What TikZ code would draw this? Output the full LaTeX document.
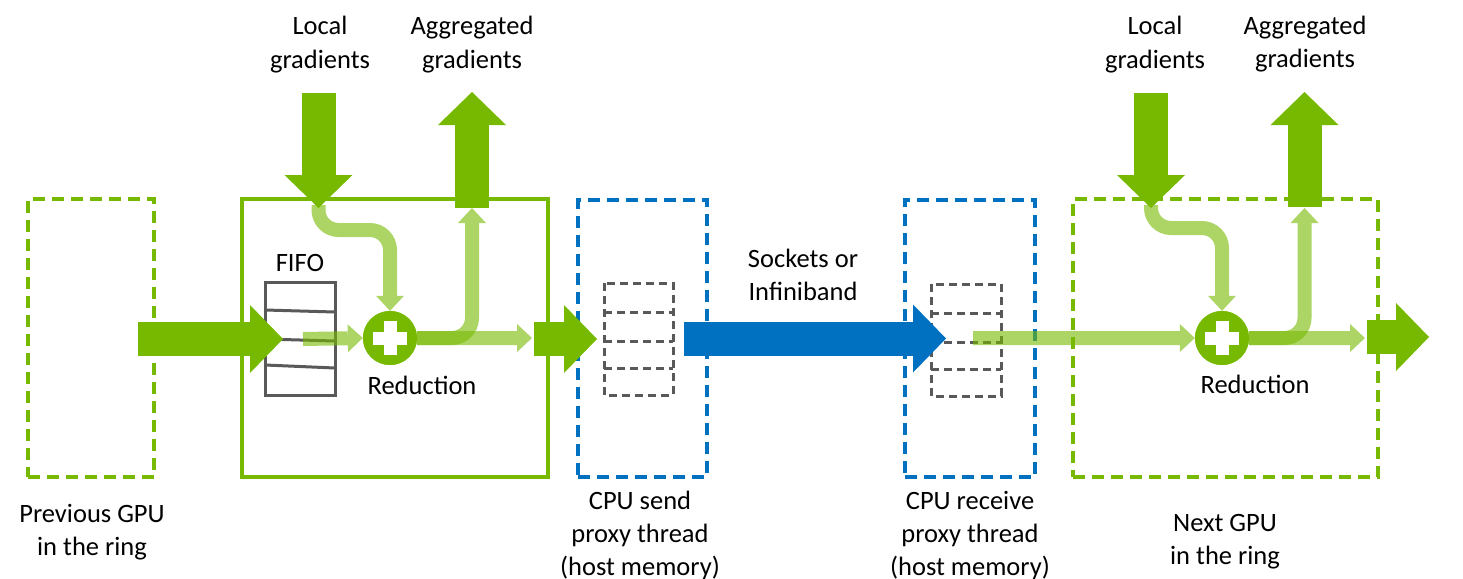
\documentclass[tikz,border=0pt]{standalone}
\usepackage{fontspec}
\setmainfont{Carlito}
\usetikzlibrary{arrows.meta}
\definecolor{nvgreen}{RGB}{118,185,0}
\definecolor{nvblue}{RGB}{0,112,192}
\definecolor{fifogray}{RGB}{89,89,89}
\begin{document}
\begin{tikzpicture}[x=1pt,y=-1pt,
  lbl/.style={font=\fontsize{26.5}{33}\selectfont, align=center, anchor=base, inner sep=0pt},
  gpubox/.style={draw=nvgreen, line width=3.5pt, minimum width=#1, minimum height=278pt, inner sep=0pt},
  gpudash/.style={gpubox=#1, dash pattern=on 12pt off 7pt, line width=4pt},
  cpubox/.style={draw=nvblue, line width=4pt, dash pattern=on 12pt off 7pt, minimum width=129pt, minimum height=277pt, inner sep=0pt},
  fifosolid/.style={draw=fifogray, line width=3pt},
  fifodash/.style={draw=fifogray, line width=3pt, dash pattern=on 8pt off 5pt},
  bigarrow/.style={draw=#1, line width=34pt, -{Triangle[width=68pt,length=33pt,line width=0pt]}},
  bigarrow/.default=nvgreen,
  lightarrow/.style={draw=nvgreen, line width=14pt, rounded corners=20pt, -{Triangle[width=28pt,length=15pt,line width=0pt]}},
  reduce/.style={circle, fill=nvgreen, minimum size=54pt, inner sep=0pt},
]
\useasboundingbox (0,0) rectangle (1463,578);

% ---------- boxes ----------
\node[gpudash=126pt] (prev) at (91,338) {};
\node[gpubox=306pt] (gpu) at (395,338) {};
\node[cpubox] (send) at (642.5,338.5) {};
\node[cpubox, minimum width=130pt] (recv) at (970,338.5) {};
\node[gpudash=305pt] (next) at (1225.5,338) {};

% ---------- FIFOs ----------
\draw[fifosolid] (265,282) rectangle (335,395);
\draw[fifosolid] (265,310) -- (335,312);
\draw[fifosolid] (265,339) -- (335,341);
\draw[fifosolid] (265,365) -- (335,368);

\draw[fifodash] (604,283) rectangle (673,395);
\draw[fifodash] (604,312) -- (673,312);
\draw[fifodash] (604,341) -- (673,341);
\draw[fifodash] (604,368) -- (673,368);

\draw[fifodash] (931,284) rectangle (1001,396);
\draw[fifodash] (931,313) -- (1001,313);
\draw[fifodash] (931,342) -- (1001,342);
\draw[fifodash] (931,369) -- (1001,369);

% ---------- reduction nodes ----------
\node[reduce] (red1) at (390,338) {};
\node[reduce] (red2) at (1222,338) {};

% ---------- coordinates ----------
\coordinate (fo1) at (303,339);
\coordinate (lg1) at (318.5,205);
\coordinate (bend1) at (390,230);
\coordinate (ag1) at (472,208);
\coordinate (o1) at (532,338);
\coordinate (fi2) at (973,338);
\coordinate (lg2) at (1151,205);
\coordinate (bend2) at (1222,228);
\coordinate (ag2) at (1304.5,208);
\coordinate (o2) at (1365,338);

% ---------- light arrows ----------
\begin{scope}[transparency group, opacity=0.6]
  \draw[lightarrow] (fo1) -- (red1.west);
\end{scope}
\begin{scope}[transparency group, opacity=0.6]
  \draw[lightarrow] (lg1) |- (bend1) -- (red1.north);
\end{scope}
\begin{scope}[transparency group, opacity=0.6]
  \draw[lightarrow] (red1.east) -| (ag1);
\end{scope}
\begin{scope}[transparency group, opacity=0.6]
  \draw[lightarrow] (red1.east) -- (o1);
\end{scope}
\begin{scope}[transparency group, opacity=0.6]
  \draw[lightarrow] (fi2) -- (red2.west);
\end{scope}
\begin{scope}[transparency group, opacity=0.6]
  \draw[lightarrow] (lg2) |- (bend2) -- (red2.north);
\end{scope}
\begin{scope}[transparency group, opacity=0.6]
  \draw[lightarrow] (red2.east) -| (ag2);
\end{scope}
\begin{scope}[transparency group, opacity=0.6]
  \draw[lightarrow] (red2.east) -- (o2);
\end{scope}

% redraw circles on top with plus signs
\node[reduce] at (red1) {};
\node[reduce] at (red2) {};
\fill[white] (red1.center) ++(-17,-6.5) rectangle ++(34,13);
\fill[white] (red1.center) ++(-6.5,-17) rectangle ++(13,34);
\fill[white] (red2.center) ++(-17,-6.5) rectangle ++(34,13);
\fill[white] (red2.center) ++(-6.5,-17) rectangle ++(13,34);

% ---------- big arrows ----------
\coordinate (p1s) at (138,339);  \coordinate (p1t) at (283,339);
\coordinate (s1s) at (534,339);  \coordinate (s1t) at (597,339);
\coordinate (n1s) at (1367,337); \coordinate (n1t) at (1429,337);
\coordinate (lg1top) at (318.5,93);  \coordinate (lg1t) at (318.5,208);
\coordinate (ag1b) at (472,208);     \coordinate (ag1top) at (472,92);
\coordinate (lg2top) at (1151,93);   \coordinate (lg2t) at (1151,208);
\coordinate (ag2b) at (1304.5,207);  \coordinate (ag2top) at (1304.5,92);
\coordinate (b1s) at (684,338.5);    \coordinate (b1t) at (946,338.5);

\draw[bigarrow] (p1s) -- (p1t);
\draw[bigarrow] (s1s) -- (s1t);
\draw[bigarrow] (n1s) -- (n1t);
\draw[bigarrow] (lg1top) -- (lg1t);
\draw[bigarrow] (ag1b) -- (ag1top);
\draw[bigarrow] (lg2top) -- (lg2t);
\draw[bigarrow] (ag2b) -- (ag2top);
\draw[bigarrow=nvblue] (b1s) -- (b1t);

% ---------- labels (anchor = baseline of last line) ----------
\node[lbl] (tl1) at (320,68) {Local\\gradients};
\node[lbl] (ta1) at (472,68) {Aggregated\\gradients};
\node[lbl] (tl2) at (1155,68) {Local\\gradients};
\node[lbl] (ta2) at (1305,67) {Aggregated\\gradients};
\node[lbl] (tfifo) at (300,271) {FIFO};
\node[lbl] (tred1) at (422,394) {Reduction};
\node[lbl] (tred2) at (1255,393) {Reduction};
\node[lbl] (tsock) at (803,300) {Sockets or\\Infiniband};
\node[lbl] (tprev) at (92,555) {Previous GPU\\in the ring};
\node[lbl] (tsend) at (640,575) {CPU send\\proxy thread\\(host memory)};
\node[lbl] (trecv) at (970,575) {CPU receive\\proxy thread\\(host memory)};
\node[lbl] (tnext) at (1225,564) {Next GPU\\in the ring};
\end{tikzpicture}
\end{document}
